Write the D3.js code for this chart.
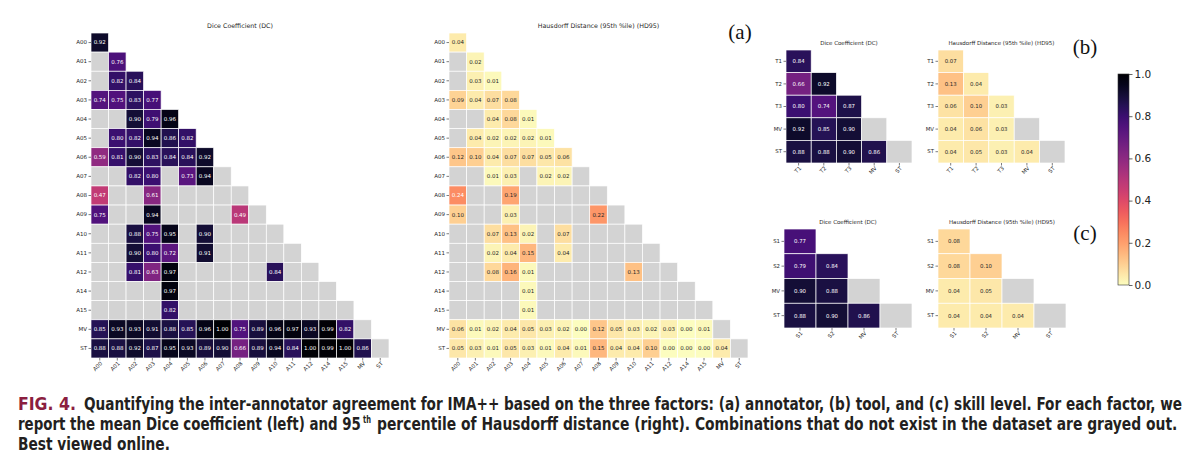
<!DOCTYPE html>
<html>
<head>
<meta charset="utf-8">
<script src="https://cdn.jsdelivr.net/npm/d3@7"></script>
<style>
  body { margin: 0; background: #fff; }
  svg { display: block; font-family: "DejaVu Sans", sans-serif; }
</style>
</head>
<body>
<svg id="chart" width="1200" height="464"></svg>
<script>
// Data, null = combination not in dataset
var annotators = ["A00","A01","A02","A03","A04","A05","A06","A07","A08","A09","A10","A11","A12","A14","A15","MV","ST"];
var diceA = [
  [0.92],
  [null,0.76],
  [null,0.82,0.84],
  [0.74,0.75,0.83,0.77],
  [null,null,0.90,0.79,0.96],
  [null,0.80,0.82,0.94,0.86,0.82],
  [0.59,0.81,0.90,0.83,0.84,0.84,0.92],
  [null,null,0.82,0.80,null,0.73,0.94,null],
  [0.47,null,null,0.61,null,null,null,null,null],
  [0.75,null,null,0.94,null,null,null,null,0.49,null],
  [null,null,0.88,0.75,0.95,null,0.90,null,null,null,null],
  [null,null,0.90,0.80,0.72,null,0.91,null,null,null,null,null],
  [null,null,0.81,0.63,0.97,null,null,null,null,null,0.84,null,null],
  [null,null,null,null,0.97,null,null,null,null,null,null,null,null,null],
  [null,null,null,null,0.82,null,null,null,null,null,null,null,null,null,null],
  [0.85,0.93,0.93,0.91,0.88,0.85,0.96,1.00,0.75,0.89,0.96,0.97,0.93,0.99,0.82,null],
  [0.88,0.88,0.92,0.87,0.95,0.93,0.89,0.90,0.66,0.89,0.94,0.84,1.00,0.99,1.00,0.86,null]
];
var hdA = [
  [0.04],
  [null,0.02],
  [null,0.03,0.01],
  [0.09,0.04,0.07,0.08],
  [null,null,0.04,0.08,0.01],
  [null,0.04,0.02,0.02,0.02,0.01],
  [0.12,0.10,0.04,0.07,0.07,0.05,0.06],
  [null,null,0.01,0.03,null,0.02,0.02,null],
  [0.24,null,null,0.19,null,null,null,null,null],
  [0.10,null,null,0.03,null,null,null,null,0.22,null],
  [null,null,0.07,0.13,0.02,null,0.07,null,null,null,null],
  [null,null,0.02,0.04,0.15,null,0.04,null,null,null,null,null],
  [null,null,0.08,0.16,0.01,null,null,null,null,null,0.13,null,null],
  [null,null,null,null,0.01,null,null,null,null,null,null,null,null,null],
  [null,null,null,null,0.01,null,null,null,null,null,null,null,null,null,null],
  [0.06,0.01,0.02,0.04,0.05,0.03,0.02,0.00,0.12,0.05,0.03,0.02,0.03,0.00,0.01,null],
  [0.05,0.03,0.01,0.05,0.03,0.01,0.04,0.01,0.15,0.04,0.04,0.10,0.00,0.00,0.00,0.04,null]
];

var tools = ["T1","T2","T3","MV","ST"];
var diceB = [[0.84],[0.66,0.92],[0.80,0.74,0.87],[0.92,0.85,0.90,null],[0.88,0.88,0.90,0.86,null]];
var hdB = [[0.07],[0.13,0.04],[0.06,0.10,0.03],[0.04,0.06,0.03,null],[0.04,0.05,0.03,0.04,null]];

var skills = ["S1","S2","MV","ST"];
var diceC = [[0.77],[0.79,0.84],[0.90,0.88,null],[0.88,0.90,0.86,null]];
var hdC = [[0.08],[0.08,0.10],[0.04,0.05,null],[0.04,0.04,0.04,null]];

var cbTicks = [0, 0.2, 0.4, 0.6, 0.8, 1.0];

var titleDC = "Dice Coefficient (DC)";
var titleHD = "Hausdorff Distance (95th %ile) (HD95)";

var svg = d3.select("#chart");

var color = function(v) { return d3.interpolateMagma(1 - v); };

// seaborn-like annotation colour: white on dark cells
var textColor = function(v) {
  var c = d3.rgb(color(v));
  var lin = function(u) { u = u / 255; return u <= 0.03928 ? u / 12.92 : Math.pow((u + 0.055) / 1.055, 2.4); };
  var lum = 0.2126 * lin(c.r) + 0.7152 * lin(c.g) + 0.0722 * lin(c.b);
  return lum > 0.408 ? "#262626" : "#ffffff";
};

var heatmap = function(p) {
  var g = svg.append("g");
  var x = d3.scaleBand().domain(p.labels).range([p.x0, p.x1]);
  var y = d3.scaleBand().domain(p.labels).range([p.y0, p.y1]);

  var cells = [];
  p.data.forEach(function(row, i) {
    row.forEach(function(v, j) {
      cells.push({ r: p.labels[i], c: p.labels[j], v: v });
    });
  });

  g.selectAll("rect.cell")
      .data(cells)
    .enter().append("rect")
      .attr("class", "cell")
      .attr("x", function(d) { return x(d.c); })
      .attr("y", function(d) { return y(d.r); })
      .attr("width", x.bandwidth())
      .attr("height", y.bandwidth())
      .attr("fill", function(d) { return d.v === null ? "#d3d3d3" : color(d.v); })
      .attr("stroke", "#fff")
      .attr("stroke-width", 0.7);

  g.selectAll("text.val")
      .data(cells.filter(function(d) { return d.v !== null; }))
    .enter().append("text")
      .attr("class", "val")
      .attr("x", function(d) { return x(d.c) + x.bandwidth() / 2; })
      .attr("y", function(d) { return y(d.r) + y.bandwidth() / 2; })
      .attr("dy", "0.35em")
      .attr("text-anchor", "middle")
      .style("font-size", p.fs + "px")
      .style("fill", function(d) { return textColor(d.v); })
      .text(function(d) { return d.v.toFixed(2); });

  var ay = g.append("g")
      .attr("transform", "translate(" + p.x0 + ",0)")
      .call(d3.axisLeft(y).tickSize(2.5).tickPadding(1.5));
  var ax = g.append("g")
      .attr("transform", "translate(0," + p.y1 + ")")
      .call(d3.axisBottom(x).tickSize(2.5).tickPadding(1.5));

  [ay, ax].forEach(function(a) {
    a.select(".domain").remove();
    a.selectAll(".tick line").attr("stroke", "#262626").attr("stroke-width", 0.6);
    a.selectAll(".tick text").style("font-size", p.fs + "px").style("fill", "#262626")
      .style("font-family", "DejaVu Sans");
  });
  ax.selectAll(".tick text")
      .attr("y", 0).attr("dy", 0)
      .attr("transform", "translate(" + (p.fs * 0.55) + "," + (p.fs * 1.05) + ") rotate(-45)")
      .style("text-anchor", "end");

  g.append("text")
      .attr("x", (p.x0 + p.x1) / 2)
      .attr("y", p.y0 - 5)
      .attr("text-anchor", "middle")
      .style("font-size", p.tfs + "px")
      .style("fill", "#262626")
      .text(p.title);
};

heatmap({ labels: annotators, data: diceA, x0: 91, x1: 389, y0: 33, y1: 358, fs: 5.5, tfs: 6.3, title: titleDC });
heatmap({ labels: annotators, data: hdA, x0: 449, x1: 748, y0: 33, y1: 358, fs: 5.5, tfs: 6.3, title: titleHD });
heatmap({ labels: tools, data: diceB, x0: 786, x1: 912, y0: 50, y1: 163, fs: 5.4, tfs: 5.5, title: titleDC });
heatmap({ labels: tools, data: hdB, x0: 938, x1: 1065, y0: 50, y1: 163, fs: 5.4, tfs: 5.5, title: titleHD });
heatmap({ labels: skills, data: diceC, x0: 784, x1: 912, y0: 229, y1: 328, fs: 5.4, tfs: 5.5, title: titleDC });
heatmap({ labels: skills, data: hdC, x0: 938, x1: 1066, y0: 229, y1: 328, fs: 5.4, tfs: 5.5, title: titleHD });

// panel letters
var letters = [["(a)", 740, 39], ["(b)", 1085, 54], ["(c)", 1085, 240]];
svg.selectAll("text.letter")
    .data(letters)
  .enter().append("text")
    .attr("class", "letter")
    .attr("x", function(d) { return d[1]; })
    .attr("y", function(d) { return d[2]; })
    .attr("text-anchor", "middle")
    .style("font-family", "'Liberation Serif', 'DejaVu Serif', serif")
    .style("font-size", "21px")
    .style("fill", "#111")
    .text(function(d) { return d[0]; });

// colorbar
var cbX = 1118, cbW = 11, cbTop = 74, cbBot = 285;
var defs = svg.append("defs");
var grad = defs.append("linearGradient").attr("id", "cbgrad")
    .attr("x1", 0).attr("y1", 1).attr("x2", 0).attr("y2", 0);
d3.range(0, 1.0001, 0.05).forEach(function(t) {
  grad.append("stop").attr("offset", t).attr("stop-color", color(t));
});
svg.append("rect")
    .attr("x", cbX).attr("y", cbTop).attr("width", cbW).attr("height", cbBot - cbTop)
    .attr("fill", "url(#cbgrad)")
    .attr("stroke", "#333").attr("stroke-width", 0.6);
var cbScale = d3.scaleLinear().domain([0, 1]).range([cbBot, cbTop]);
var cbAxis = svg.append("g")
    .attr("transform", "translate(" + (cbX + cbW) + ",0)")
    .call(d3.axisRight(cbScale).tickValues(cbTicks).tickFormat(d3.format(".1f")).tickSize(3.5).tickPadding(2));
cbAxis.select(".domain").remove();
cbAxis.selectAll(".tick line").attr("stroke", "#222").attr("stroke-width", 0.7);
cbAxis.selectAll(".tick text").style("font-size", "10.5px").style("fill", "#222").style("font-family", "DejaVu Sans");

// caption: each piece is its own text, squeezed horizontally to the width it has in the figure
var capPieces = [
  // [text, x, y, width, fill, size]
  ["FIG. 4.", 18, 410, 58, "#8b1e3f", 17],
  ["Quantifying the inter-annotator agreement for IMA++ based on the three factors: (a) annotator, (b) tool, and (c) skill level. For each factor, we", 84, 410, 1099, "#231f20", 17],
  ["report the mean Dice coefficient (left) and 95", 18, 430, 343, "#231f20", 17],
  ["th", 363, 423, 8, "#231f20", 10],
  ["percentile of Hausdorff distance (right). Combinations that do not exist in the dataset are grayed out.", 377, 430, 801, "#231f20", 17],
  ["Best viewed online.", 18, 450, 152, "#231f20", 17]
];
svg.append("g").selectAll("text")
    .data(capPieces)
  .enter().append("text")
    .attr("x", 0)
    .attr("y", 0)
    .style("font-family", "'DejaVu Sans Condensed', 'Liberation Sans', sans-serif")
    .style("font-weight", "bold")
    .style("font-size", function(d) { return d[5] + "px"; })
    .style("fill", function(d) { return d[4]; })
    .text(function(d) { return d[0]; })
    .attr("transform", function(d) {
      var w = this.getComputedTextLength();
      return "translate(" + d[1] + "," + d[2] + ") scale(" + (d[3] / w) + ",1)";
    });
</script>
</body>
</html>
